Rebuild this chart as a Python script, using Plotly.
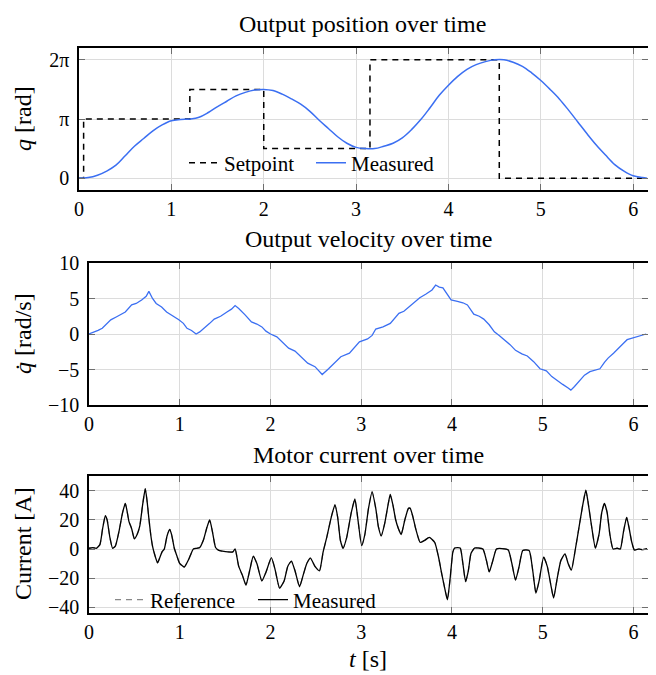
import numpy as np
import plotly.graph_objects as go

PI = np.pi

# ---------------- data ----------------
# Output position (measured), in units of pi
pos_t = [0.0, 0.1, 0.2, 0.3, 0.4, 0.5, 0.6, 0.7, 0.8, 0.9, 1.0, 1.1, 1.2, 1.3, 1.4, 1.5,
         1.6, 1.7, 1.8, 1.9, 2.0, 2.1, 2.2, 2.3, 2.4, 2.5, 2.6, 2.7, 2.8, 2.9, 3.0, 3.1,
         3.2, 3.3, 3.4, 3.5, 3.6, 3.7, 3.8, 3.9, 4.0, 4.1, 4.2, 4.3, 4.4, 4.5, 4.6, 4.7,
         4.8, 4.9, 5.0, 5.1, 5.2, 5.3, 5.4, 5.5, 5.6, 5.7, 5.8, 5.9, 6.0, 6.1, 6.15]
pos_meas_pi = [0.0, 0.01, 0.05, 0.12, 0.22, 0.38, 0.54, 0.67, 0.80, 0.90, 0.97, 0.99, 1.0, 1.03,
               1.11, 1.21, 1.30, 1.39, 1.45, 1.49, 1.5, 1.48, 1.42, 1.34, 1.25, 1.13, 0.98,
               0.84, 0.70, 0.59, 0.52, 0.5, 0.5, 0.54, 0.59, 0.68, 0.82, 0.99, 1.19, 1.40,
               1.57, 1.72, 1.84, 1.92, 1.97, 2.0, 2.0, 1.96, 1.89, 1.78, 1.65, 1.50, 1.34,
               1.15, 0.95, 0.75, 0.56, 0.39, 0.23, 0.12, 0.04, 0.01, 0.0]

# Setpoint (step changes), in units of pi
sp_t = [0.0, 0.05, 1.2, 2.0, 3.15, 4.55, 6.16]
sp_pi = [0.0, 1.0, 1.5, 0.5, 2.0, 0.0, 0.0]

# Output velocity [rad/s]
vel_t = [0.0, 0.05, 0.10, 0.146, 0.20, 0.24, 0.30, 0.36, 0.40, 0.47, 0.52, 0.58, 0.63, 0.66,
         0.70, 0.74, 0.80, 0.855, 0.92, 0.99, 1.04, 1.08, 1.13, 1.18, 1.22, 1.27, 1.33,
         1.38, 1.45, 1.52, 1.57, 1.61, 1.65, 1.72, 1.79, 1.85, 1.905, 1.95, 2.0, 2.07,
         2.13, 2.20, 2.27, 2.34, 2.41, 2.49, 2.57, 2.64, 2.70, 2.775, 2.87, 2.93, 2.98,
         3.07, 3.12, 3.16, 3.24, 3.32, 3.37, 3.415, 3.47, 3.53, 3.59, 3.645, 3.71, 3.78,
         3.82, 3.86, 3.90, 3.95, 3.99, 4.06, 4.12, 4.17, 4.24, 4.30, 4.35, 4.41, 4.467,
         4.52, 4.58, 4.64, 4.70, 4.77, 4.83, 4.90, 4.97, 5.04, 5.10, 5.15, 5.22, 5.28,
         5.31, 5.35, 5.40, 5.46, 5.52, 5.57, 5.63, 5.68, 5.72, 5.78, 5.84, 5.89, 5.93,
         6.02, 6.08, 6.14]
vel = [0.0, 0.2, 0.5, 0.8, 1.5, 2.0, 2.4, 2.8, 3.1, 4.1, 4.3, 4.8, 5.3, 6.0,
       5.0, 4.3, 3.8, 3.1, 2.6, 2.0, 1.5, 0.8, 0.5, 0.0, 0.3, 0.8, 1.5,
       2.1, 2.5, 3.1, 3.5, 4.0, 3.6, 2.7, 1.7, 1.4, 1.0, 0.4, 0.0, -0.4,
       -1.1, -2.0, -2.4, -3.2, -4.1, -4.6, -5.7, -4.9, -4.1, -3.2, -2.7, -1.9, -1.1,
       -0.7, -0.2, 0.7, 1.0, 1.5, 2.2, 2.9, 3.2, 3.9, 4.6, 5.1, 5.6, 6.2,
       6.9, 6.6, 6.5, 5.6, 4.8, 4.6, 4.4, 4.1, 2.8, 2.5, 2.1, 1.3, 0.3,
       -0.2, -0.8, -1.5, -2.3, -2.8, -3.1, -3.9, -4.9, -5.2, -6.0, -6.5, -7.1, -7.6,
       -7.9, -7.4, -6.7, -5.8, -5.3, -5.1, -4.9, -4.0, -3.4, -2.7, -2.0, -1.3, -0.8,
       -0.5, -0.3, 0.0]

# Motor current [A]
cur_t = [0.00, 0.04, 0.08, 0.12, 0.15, 0.18, 0.20, 0.23, 0.26, 0.29, 0.33, 0.37, 0.40,
         0.42, 0.44, 0.47, 0.50, 0.53, 0.56, 0.59, 0.62, 0.64, 0.66, 0.68, 0.70, 0.72,
         0.755, 0.78, 0.805, 0.83, 0.86, 0.89, 0.91, 0.94, 0.97, 1.00, 1.05, 1.10, 1.15,
         1.19, 1.22, 1.26, 1.30, 1.33, 1.36, 1.395, 1.43, 1.47, 1.53, 1.585, 1.61, 1.65,
         1.69, 1.73, 1.77, 1.81, 1.85, 1.905, 1.95, 2.01, 2.05, 2.10, 2.15, 2.19, 2.23,
         2.27, 2.32, 2.36, 2.40, 2.44, 2.49, 2.54, 2.58, 2.62, 2.67, 2.71, 2.74, 2.77,
         2.80, 2.84, 2.89, 2.93, 2.96, 3.005, 3.04, 3.08, 3.12, 3.16, 3.19, 3.22, 3.26,
         3.30, 3.32, 3.35, 3.38, 3.41, 3.44, 3.48, 3.52, 3.54, 3.57, 3.60, 3.65, 3.70,
         3.75, 3.81, 3.85, 3.89, 3.93, 3.95, 3.98, 4.01, 4.03, 4.09, 4.12, 4.15, 4.18,
         4.21, 4.25, 4.34, 4.38, 4.41, 4.45, 4.49, 4.55, 4.62, 4.66, 4.70, 4.74, 4.78,
         4.85, 4.89, 4.925, 4.96, 5.01, 5.05, 5.09, 5.12, 5.16, 5.20, 5.245, 5.28, 5.315,
         5.36, 5.40, 5.44, 5.475, 5.50, 5.54, 5.58, 5.62, 5.65, 5.68, 5.71, 5.74, 5.775,
         5.82, 5.855, 5.89, 5.925, 5.95, 5.98, 6.01, 6.06, 6.10, 6.15]
cur = [0.5, 1.0, 0.5, 3.0, 14.0, 23.0, 20.0, 8.0, 0.5, 2.0, 12.0, 25.0, 31.5,
       26.0, 19.0, 14.0, 7.0, 10.0, 16.0, 30.0, 41.5, 33.0, 21.0, 10.0, 2.0, -3.0,
       -9.5, -6.0, -2.0, 0.0, 9.0, 13.5, 10.0, 0.5, -5.0, -10.0, -12.4, -7.0, 0.0,
       0.5, 1.0, 6.0, 15.0, 20.0, 12.0, 1.0, -1.0, -1.5, -2.0, -2.0, 0.0, -12.0,
       -18.0, -24.8, -15.0, -5.0, -10.0, -22.0, -16.0, -6.0, -14.0, -27.0, -22.0, -12.0, -8.3,
       -15.0, -26.0, -18.0, -10.0, -6.3, -12.0, -15.0, -2.0, 8.0, 22.0, 30.4, 22.0, 6.0,
       0.5, 8.0, 25.0, 34.5, 22.0, 2.3, 10.0, 28.0, 39.4, 28.0, 15.0, 9.0, 18.0,
       32.0, 37.6, 30.0, 20.0, 14.0, 10.0, 20.0, 28.0, 28.0, 22.0, 14.0, 4.5, 6.0,
       8.0, 4.5, -5.0, -18.0, -30.0, -35.0, -20.0, -2.0, 0.7, 0.7, -10.0, -22.5, -15.0,
       -3.0, 0.7, 0.0, -8.0, -15.8, -8.0, 0.0, 0.3, -0.7, -10.0, -21.4, -12.0, -1.0,
       -1.0, -15.0, -30.4, -22.0, -5.6, -12.0, -25.0, -33.8, -20.0, -8.0, -3.4, -10.0, -14.6,
       0.0, 15.0, 30.0, 40.5, 32.0, 15.0, 0.7, 10.0, 25.0, 31.5, 25.0, 10.0, 0.0,
       0.5, 0.0, 12.0, 21.8, 15.0, 5.0, -0.7, 0.0, -0.5, 0.2]

x_ticks = [0, 1, 2, 3, 4, 5, 6]
pos_tickvals_pi = [0, 1, 2]
pos_ticktext = ["0", "π", "2π"]
vel_ticks = [-10, -5, 0, 5, 10]
cur_ticks = [-40, -20, 0, 20, 40]

titles = ["Output position over time", "Output velocity over time", "Motor current over time"]

# ---------------- figure ----------------
OFF = 8            # page offset of the figure inside the browser window
W, H = 648, 667
BLUE = "#3b6ff2"
FONT = "'Liberation Serif', 'Times New Roman', Times, serif"

def px(x):
    return (x - OFF) / W

def py(y):
    return 1 - (y - OFF) / H

fig = go.Figure()

fig.add_trace(go.Scatter(x=sp_t, y=[v * PI for v in sp_pi], mode="lines", line_shape="hv",
                         name="Setpoint", line=dict(color="black", width=1.5, dash="6px,5px"),
                         xaxis="x", yaxis="y", legend="legend"))
fig.add_trace(go.Scatter(x=pos_t, y=[v * PI for v in pos_meas_pi], mode="lines",
                         line_shape="spline", name="Measured",
                         line=dict(color=BLUE, width=1.5, smoothing=1.0),
                         xaxis="x", yaxis="y", legend="legend"))
fig.add_trace(go.Scatter(x=vel_t, y=vel, mode="lines", showlegend=False,
                         line=dict(color=BLUE, width=1.3), xaxis="x2", yaxis="y2"))
fig.add_trace(go.Scatter(x=cur_t, y=cur, mode="lines", name="Reference", line_shape="spline",
                         line=dict(color="#888888", width=1.3, dash="6px,5px", smoothing=0.5),
                         xaxis="x3", yaxis="y3", legend="legend2"))
fig.add_trace(go.Scatter(x=cur_t, y=cur, mode="lines", name="Measured", line_shape="spline",
                         line=dict(color="black", width=1.3, smoothing=0.5),
                         xaxis="x3", yaxis="y3", legend="legend2"))

axis_common = dict(showline=True, linecolor="black", linewidth=1.5, mirror="ticks",
                   ticks="inside", ticklen=6, tickwidth=1.2, tickcolor="#6e6e6e",
                   showgrid=True, gridcolor="#dcdcdc", gridwidth=1, zeroline=False,
                   automargin=False,
                   tickfont=dict(family=FONT, size=20, color="black"))
yaxis_extra = dict(ticklabelstandoff=4)

xr = [0, 6.16]
fig.update_layout(
    width=W, height=H,
    margin=dict(l=0, r=0, t=0, b=0, pad=0, autoexpand=False),
    paper_bgcolor="white", plot_bgcolor="white",
    font=dict(family=FONT, color="black"),
    xaxis=dict(domain=[px(79), px(648)], anchor="y", range=xr, tickvals=x_ticks, **axis_common),
    yaxis=dict(domain=[py(190), py(48)], anchor="x", range=[-0.2 * PI, 2.2 * PI],
               tickvals=[v * PI for v in pos_tickvals_pi], ticktext=pos_ticktext,
               **axis_common, **yaxis_extra),
    xaxis2=dict(domain=[px(89), px(648)], anchor="y2", range=xr, tickvals=x_ticks, **axis_common),
    yaxis2=dict(domain=[py(405), py(263)], anchor="x2", range=[-10, 10], tickvals=vel_ticks,
                **axis_common, **yaxis_extra),
    xaxis3=dict(domain=[px(89), px(648)], anchor="y3", range=xr, tickvals=x_ticks, **axis_common),
    yaxis3=dict(domain=[py(613), py(476)], anchor="x3", range=[-44.1, 50.3], tickvals=cur_ticks,
                **axis_common, **yaxis_extra),
    legend=dict(orientation="h", x=px(184), y=py(163), xanchor="left", yanchor="middle",
                bgcolor="rgba(0,0,0,0)", font=dict(family=FONT, size=21), itemwidth=30,
                entrywidth=82, tracegroupgap=0),
    legend2=dict(orientation="h", x=px(110), y=py(600), xanchor="left", yanchor="middle",
                 bgcolor="rgba(0,0,0,0)", font=dict(family=FONT, size=21), itemwidth=30,
                 entrywidth=98),
    showlegend=True,
)

annotations = []
for txt, yc, xc in zip(titles, [24, 239, 455], [362, 368, 368]):
    annotations.append(dict(text=txt, x=px(xc), y=py(yc), xref="paper", yref="paper",
                            xanchor="center", yanchor="middle", showarrow=False, borderpad=0,
                            font=dict(family=FONT, size=24)))
for txt, yc in zip(["<i>q</i> [rad]", "<i>q̇</i> [rad/s]", "Current [A]"], [119, 334, 544]):
    annotations.append(dict(text=txt, x=px(23), y=py(yc), xref="paper", yref="paper",
                            xanchor="center", yanchor="middle", showarrow=False, textangle=-90,
                            font=dict(family=FONT, size=24)))
annotations.append(dict(text="<i>t</i> [s]", x=px(368), y=py(659), xref="paper", yref="paper",
                        xanchor="center", yanchor="middle", showarrow=False,
                        font=dict(family=FONT, size=24)))
fig.update_layout(annotations=annotations)

fig.write_html("out.html")
